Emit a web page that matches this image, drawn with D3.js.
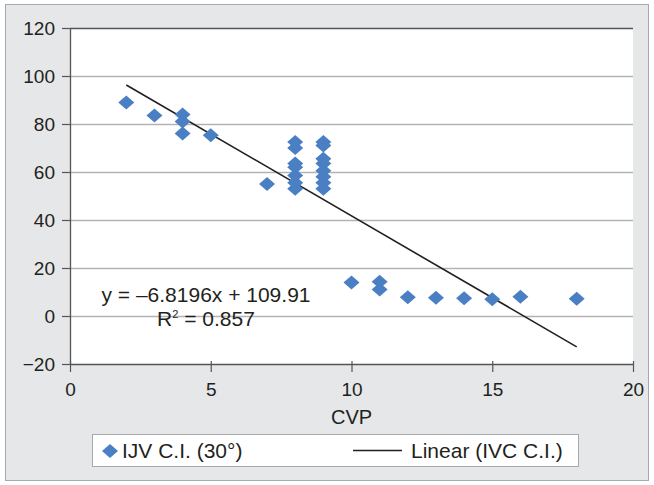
<!DOCTYPE html>
<html>
<head>
<meta charset="utf-8">
<script src="https://cdnjs.cloudflare.com/ajax/libs/d3/7.8.5/d3.min.js"></script>
<style>
  body { margin: 0; background: #fff; }
  svg { display: block; font-family: "Liberation Sans", Arial, sans-serif; }
</style>
</head>
<body>
<div id="chart"></div>
<script>
// data
const cvp = [2, 3, 4, 4, 4, 5, 7,
  8, 8, 8, 8, 8, 8, 8,
  9, 9, 9, 9, 9, 9, 9, 9,
  10, 11, 11, 12, 13, 14, 15, 16, 18];
const ijv = [89, 83.5, 84, 81, 76, 75.3, 55,
  72.5, 70, 63.5, 62, 58.5, 55.5, 53,
  72.5, 71, 65.5, 63.5, 60.5, 58, 55.5, 53,
  14, 14.3, 11, 7.8, 7.6, 7.4, 7, 8, 7.2];
const slope = -6.8196, intercept = 109.91;
const fitRange = [2, 18];
const xTicks = [0, 5, 10, 15, 20];
const yTicks = [-20, 0, 20, 40, 60, 80, 100, 120];

const W = 654, H = 485;
const margin = { top: 28, left: 70, right: 21, bottom: 121 };

let svg = d3.select('#chart')
  .append('svg')
  .attr('width', W)
  .attr('height', H);

// outer frame
svg.append('rect')
  .attr('x', 5.5).attr('y', 4.5)
  .attr('width', W - 11).attr('height', H - 9)
  .attr('fill', '#e6e7e8')
  .attr('stroke', '#a7a9ac');

const x = d3.scaleLinear().domain([0, 20]).range([margin.left, W - margin.right]);
const y = d3.scaleLinear().domain([-20, 120]).range([H - margin.bottom, margin.top]);

// plot area
svg.append('rect')
  .attr('x', x(0)).attr('y', y(120))
  .attr('width', x(20) - x(0)).attr('height', y(-20) - y(120))
  .attr('fill', '#fff');

// gridlines
svg.append('g')
  .selectAll('line')
  .data(yTicks.filter(d => d > -20))
  .join('line')
  .attr('x1', x(0)).attr('x2', x(20))
  .attr('y1', d => y(d) + 0.5).attr('y2', d => y(d) + 0.5)
  .attr('stroke', d => d === 120 ? '#555' : '#b3b3b3')
  .attr('stroke-width', 1.3);

// axes
let yAxis = svg.append('g')
  .attr('transform', `translate(${x(0)},0)`)
  .call(d3.axisLeft(y).tickValues(yTicks).tickSize(8).tickSizeOuter(0));
let xAxis = svg.append('g')
  .attr('transform', `translate(0,${y(-20)})`)
  .call(d3.axisBottom(x).tickValues(xTicks).tickSize(8).tickSizeOuter(0));

[xAxis, yAxis].forEach(g => {
  g.select('.domain').attr('stroke', '#555').attr('stroke-width', 1.3);
  g.selectAll('.tick line').attr('stroke', '#555').attr('stroke-width', 1.2);
  g.selectAll('.tick text')
    .attr('fill', '#231f20')
    .style('font-size', '19px')
    .text(d => d < 0 ? '\u2212' + Math.abs(d) : d);
});
yAxis.selectAll('.tick text').attr('x', -15).attr('dy', '0.35em');
xAxis.selectAll('.tick text').attr('y', 19);
xAxis.selectAll('.tick line').attr('y1', -3).attr('y2', 8);

// trend line
svg.append('line')
  .attr('x1', x(fitRange[0])).attr('y1', y(slope * fitRange[0] + intercept))
  .attr('x2', x(fitRange[1])).attr('y2', y(slope * fitRange[1] + intercept))
  .attr('stroke', '#231f20')
  .attr('stroke-width', 1.6);

const diamond = 'M0,-7L8,0L0,7L-8,0Z';

// points
svg.append('g')
  .selectAll('path')
  .data(cvp.map((d, i) => ({ cvp: d, ijv: ijv[i] })))
  .join('path')
  .attr('d', diamond)
  .attr('transform', d => `translate(${x(d.cvp)},${y(d.ijv)})`)
  .attr('fill', '#4a80c3');

// equation
svg.append('text')
  .attr('x', 206).attr('y', 302)
  .attr('text-anchor', 'middle')
  .style('font-size', '21px')
  .attr('fill', '#231f20')
  .text('y = \u20136.8196x + 109.91');
let r2 = svg.append('text')
  .attr('x', 206).attr('y', 326)
  .attr('text-anchor', 'middle')
  .style('font-size', '21px')
  .attr('fill', '#231f20');
r2.append('tspan').text('R');
r2.append('tspan').attr('dy', -8).style('font-size', '11px').text('2');
r2.append('tspan').attr('dy', 8).text(' = 0.857');

// x label
svg.append('text')
  .attr('x', x(10)).attr('y', 424)
  .attr('text-anchor', 'middle')
  .style('font-size', '20px')
  .attr('fill', '#231f20')
  .text('CVP');

// legend
let legend = svg.append('g');
legend.append('rect')
  .attr('x', 92.5).attr('y', 434.5)
  .attr('width', 486).attr('height', 32)
  .attr('fill', '#fff')
  .attr('stroke', '#a7a9ac');
legend.append('path')
  .attr('d', diamond)
  .attr('transform', 'translate(110,451)')
  .attr('fill', '#4a80c3');
legend.append('text')
  .attr('x', 122).attr('y', 458)
  .style('font-size', '21px')
  .attr('fill', '#231f20')
  .text('IJV C.I. (30°)');
legend.append('line')
  .attr('x1', 353).attr('x2', 402)
  .attr('y1', 450.5).attr('y2', 450.5)
  .attr('stroke', '#231f20')
  .attr('stroke-width', 1.6);
legend.append('text')
  .attr('x', 411).attr('y', 458)
  .style('font-size', '21px')
  .attr('fill', '#231f20')
  .text('Linear (IVC C.I.)');
</script>
</body>
</html>
